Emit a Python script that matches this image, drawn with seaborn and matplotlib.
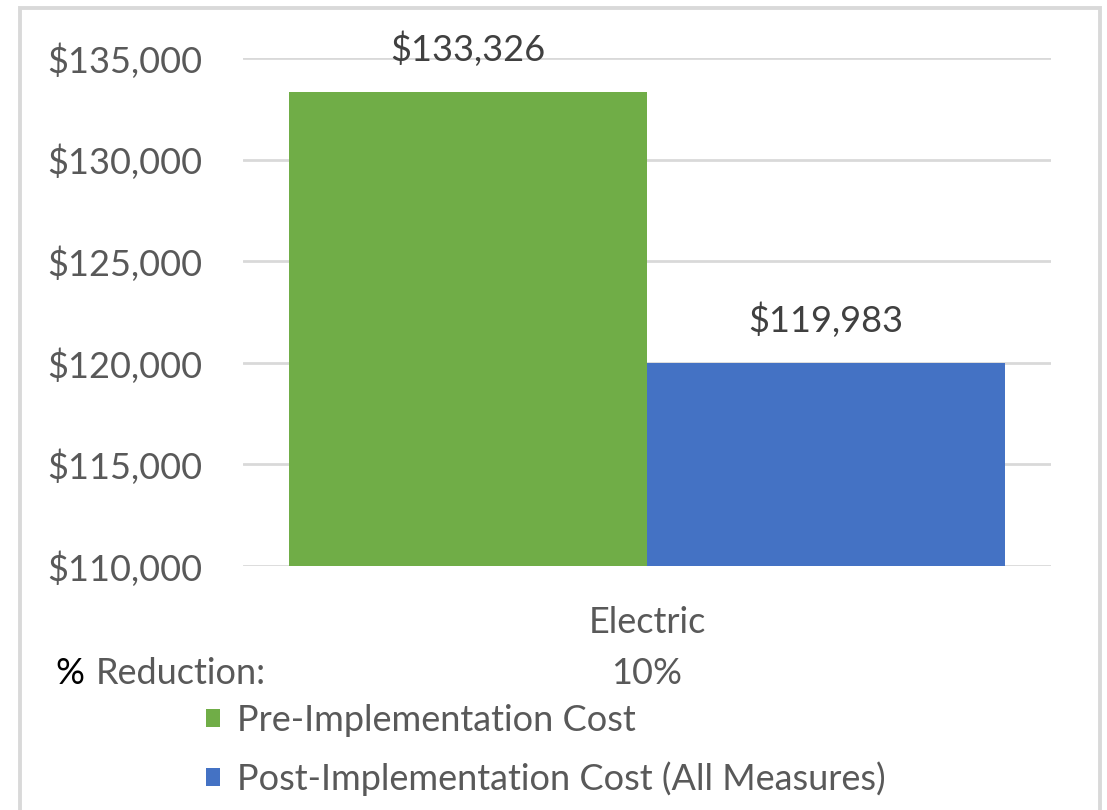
import matplotlib
matplotlib.use("Agg")
import matplotlib.pyplot as plt
import seaborn as sns
import pandas as pd
from matplotlib.patches import Rectangle
from matplotlib.ticker import FuncFormatter

# Dados do gráfico
categorias = ["Electric"]
series = ["Pre-Implementation Cost", "Post-Implementation Cost (All Measures)"]
valores = [133326, 119983]
cores = ["#70AD47", "#4472C4"]
y_ticks = [110000, 115000, 120000, 125000, 130000, 135000]

df = pd.DataFrame({"categoria": categorias * len(series), "serie": series, "custo": valores})
reducao = (valores[0] - valores[1]) / valores[0]

sns.set_theme(style="white")
plt.rcParams["font.family"] = ["Lato", "DejaVu Sans"]
texto_cor = "#595959"
fs = 26

fig = plt.figure(figsize=(11.07, 8.10), dpi=100)
ax = fig.add_axes([0.2195, 0.3012, 0.7299, 0.6272])

sns.barplot(data=df, x="categoria", y="custo", hue="serie", palette=cores,
            width=0.8, saturation=1, linewidth=0, ax=ax, legend=True)

ax.set_ylim(y_ticks[0], y_ticks[-1])
ax.set_xlim(-0.4508, 0.4508)
ax.set_yticks(y_ticks)
ax.yaxis.set_major_formatter(FuncFormatter(lambda v, p: f"${v:,.0f}"))
ax.tick_params(axis="y", labelsize=fs, colors=texto_cor, length=0, pad=29)
ax.tick_params(axis="x", labelsize=fs, colors=texto_cor, length=0, pad=28.5)
ax.set_xlabel("")
ax.set_ylabel("")
ax.grid(axis="y", color="#D9D9D9", linewidth=2)
ax.set_axisbelow(True)
for s in ax.spines.values():
    s.set_visible(False)

# rótulos de valor acima das barras
for cont in ax.containers:
    for barra in cont:
        ax.annotate(f"${barra.get_height():,.0f}",
                    (barra.get_x() + barra.get_width() / 2, barra.get_height()),
                    xytext=(0, 31), textcoords="offset points",
                    ha="center", va="center", fontsize=fs, color="#404040",
                    annotation_clip=False)

# linha de % de redução
ax.text(0, -0.212, f"{reducao:.0%}", transform=ax.get_xaxis_transform(),
        ha="center", va="center", fontsize=fs, color=texto_cor)
fig.text(55 / 1107, 1 - 673 / 810, "%", ha="left", va="center", fontsize=fs, color="black")
fig.text(96 / 1107, 1 - 673 / 810, "Reduction:", ha="left", va="center",
         fontsize=fs, color=texto_cor)

# legenda
handles, labels = ax.get_legend_handles_labels()
ax.get_legend().remove()
leg = fig.legend(handles, labels, loc="upper left", bbox_to_anchor=(206 / 1107, 1 - 704 / 810),
                 frameon=False, fontsize=fs, handlelength=0.4, handleheight=0.4,
                 handletextpad=0.45, labelspacing=0.68, borderaxespad=0, borderpad=0)
for t in leg.get_texts():
    t.set_color(texto_cor)

# moldura do gráfico
fig.add_artist(Rectangle((20 / 1107, -0.05), 1080 / 1107, 1.05 - 8 / 810,
                         transform=fig.transFigure, fill=False,
                         edgecolor="#D9D9D9", linewidth=2.8))

fig.savefig("out.png", dpi=100)
plt.close(fig)
